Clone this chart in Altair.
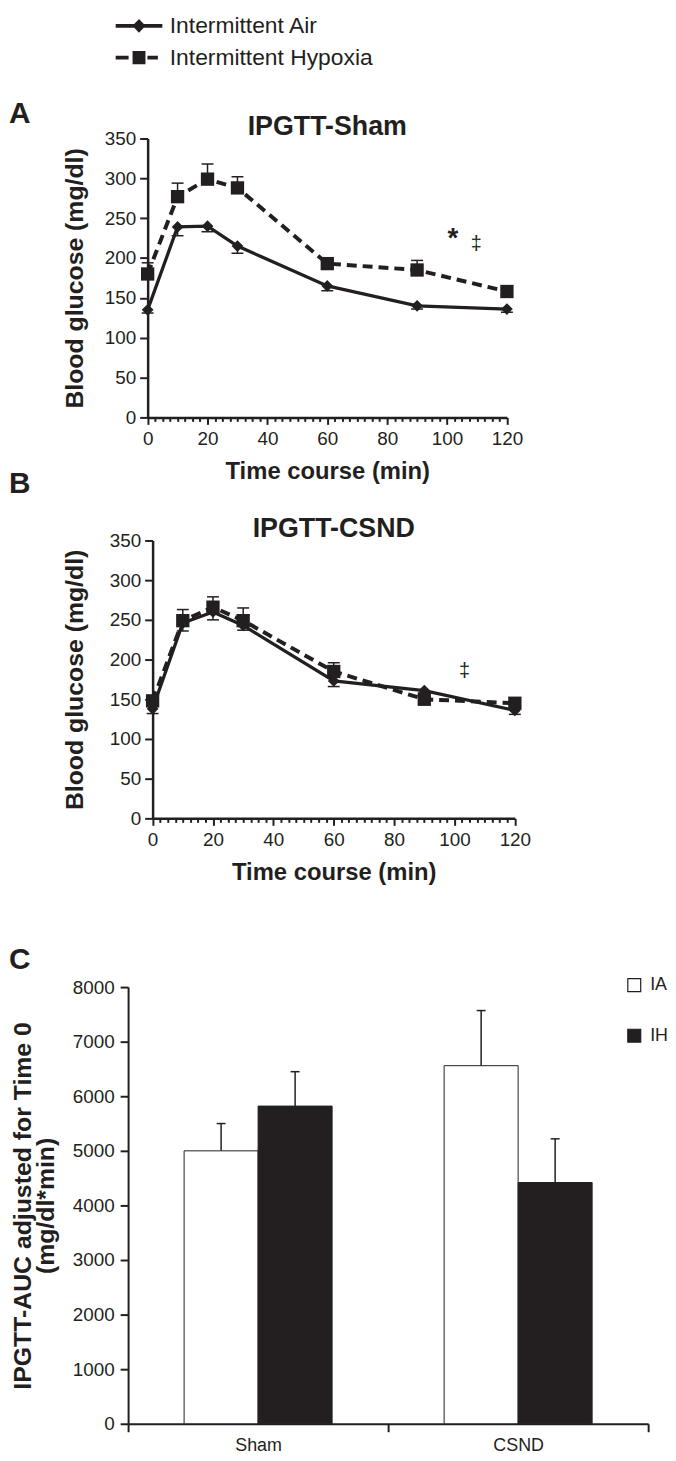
import altair as alt
import pandas as pd

# ---------------- data ----------------
time_min = [0, 10, 20, 30, 60, 90, 120]
sham_ia = [135, 239, 240, 215, 165, 140, 136]
sham_ia_sem = [4, 11, 7, 9, 6, 4, 4]
sham_ih = [180, 277, 299, 288, 193, 185, 158]
sham_ih_sem = [14, 17, 19, 14, 4, 12, 4]
csnd_ia = [138, 246, 260, 243, 173, 161, 136]
csnd_ia_sem = [6, 10, 10, 6, 7, 3, 5]
csnd_ih = [148, 249, 266, 249, 185, 150, 145]
csnd_ih_sem = [5, 14, 13, 16, 11, 4, 4]

series_names = ["Intermittent Air", "Intermittent Hypoxia"]
group_codes = ["IA", "IH"]
panel_titles = ["IPGTT-Sham", "IPGTT-CSND"]
panel_letters = ["A", "B", "C"]
time_ticks = [0, 20, 40, 60, 80, 100, 120]
glucose_ticks = [0, 50, 100, 150, 200, 250, 300, 350]

star_text = ["*"]
ddagger_text = ["\u2021"]
sham_star_t = [102.0]
sham_star_v = [224]
sham_dd_t = [109.8]
sham_dd_v = [217]
csnd_dd_t = [103.3]
csnd_dd_v = [185]

auc_conditions = ["Sham", "CSND"]
auc_ia = [5000, 6560]
auc_ia_sem = [500, 1010]
auc_ih = [5820, 4420]
auc_ih_sem = [630, 800]
auc_ticks = [0, 1000, 2000, 3000, 4000, 5000, 6000, 7000, 8000]

# ---------------- style ----------------
INK = "#231f20"
FONT = "Liberation Sans"
LEFT = -120  # left edge of the figure, relative to every panel's origin

# legend glyphs (unit = 10 px for symbolSize 400)
PATH_IA = ("M-2.35,-0.2L2.35,-0.2L2.35,0.2L-2.35,0.2Z "
           "M0,-0.7L0.66,0L0,0.7L-0.66,0Z")
PATH_IH = ("M-2.35,-0.2L-1.05,-0.2L-1.05,0.2L-2.35,0.2Z "
           "M-0.65,-0.68L0.65,-0.68L0.65,0.68L-0.65,0.68Z "
           "M0.85,-0.2L1.9,-0.2L1.9,0.2L0.85,0.2Z")


def glucose_frame(ia, ia_sem, ih, ih_sem):
    rows = []
    for t, v, e in zip(time_min, ia, ia_sem):
        rows.append({"t": t, "series": series_names[0], "v": v, "lo": v - e, "hi": v, "cap": v - e})
    for t, v, e in zip(time_min, ih, ih_sem):
        rows.append({"t": t, "series": series_names[1], "v": v, "lo": v, "hi": v + e, "cap": v + e})
    return pd.DataFrame(rows)


def text_layer(txt, x, y, size, weight="bold", align="left", baseline="middle"):
    return alt.Chart(pd.DataFrame({"label": txt})).mark_text(
        font=FONT, fontSize=size, fontWeight=weight, color=INK, align=align, baseline=baseline
    ).encode(x=alt.value(x), y=alt.value(y), text="label:N")


def bound_layer(y_top, y_bottom):
    # white hairline that fixes the panel's extent for the layout
    return alt.Chart(pd.DataFrame({"m": [0]})).mark_rule(color="#ffffff", strokeWidth=0.5).encode(
        x=alt.value(LEFT), y=alt.value(y_top), y2=alt.value(y_bottom)
    )


def glucose_panel(df, title, off, w, h, ytitle_x, title_y, bound, letters, notes, legend=False):
    xs = alt.Scale(domain=[0, 120], range=[off, off + w], nice=False, zero=False)
    ys = alt.Scale(domain=[0, 350], nice=False)
    major = f"indexof({time_ticks}, datum.value) >= 0"
    x_axis = alt.Axis(
        values=[i * 2.5 for i in range(49)],
        labelExpr=f"{major} ? datum.label : ''",
        labelOverlap=False, labelFlush=False,
        tickSize={"condition": {"test": major, "value": 7}, "value": 4},
        tickColor=INK, tickWidth=2, domainColor=INK, domainWidth=2.5,
        labelFont=FONT, labelFontSize=19, labelColor=INK, labelPadding=5,
        grid=False, title="Time course (min)", titleFont=FONT, titleFontSize=24,
        titleFontWeight="bold", titleColor=INK, titleX=off + w / 2, titleY=55,
        titleAlign="center", titleBaseline="middle",
    )
    y_axis = alt.Axis(
        values=glucose_ticks, tickSize=8, tickColor=INK, tickWidth=2, offset=-off,
        domainColor=INK, domainWidth=2.5, labelFont=FONT, labelFontSize=19,
        labelColor=INK, labelPadding=4, grid=False,
        title="Blood glucose (mg/dl)", titleFont=FONT, titleFontSize=25,
        titleFontWeight="bold", titleColor=INK, titleX=ytitle_x, titleY=h / 2,
        titleAngle=270, titleAlign="center", titleBaseline="middle",
    )

    def X():
        return alt.X("t:Q", scale=xs, axis=x_axis)

    def Y(f):
        return alt.Y(f"{f}:Q", scale=ys, axis=y_axis)

    base = alt.Chart(df)
    ia = base.transform_filter(alt.datum.series == series_names[0])
    ih = base.transform_filter(alt.datum.series == series_names[1])
    layers = [
        bound_layer(*bound),
        ia.mark_line(color=INK, strokeWidth=3.3).encode(x=X(), y=Y("v")),
        ih.mark_line(color=INK, strokeWidth=4, strokeDash=[10, 6]).encode(x=X(), y=Y("v")),
        base.mark_rule(color=INK, strokeWidth=1.5).encode(x=X(), y=Y("lo"), y2="hi:Q"),
        base.mark_tick(color=INK, thickness=1.5, size=12, orient="horizontal", opacity=1).encode(x=X(), y=Y("cap")),
        ia.mark_point(shape="diamond", filled=True, size=140, color=INK, opacity=1).encode(x=X(), y=Y("v")),
        ih.mark_point(shape="square", filled=True, size=180, color=INK, opacity=1).encode(x=X(), y=Y("v")),
    ]
    for txt, tt, vv, size, weight in notes:
        layers.append(
            alt.Chart(pd.DataFrame({"t": tt, "v": vv, "s": txt})).mark_text(
                font=FONT, fontSize=size, fontWeight=weight, color=INK, baseline="middle"
            ).encode(x=X(), y=Y("v"), text="s:N")
        )
    layers.append(text_layer([title], off + w / 2, title_y, 27, align="center", baseline="alphabetic"))
    for txt, ly in letters:
        layers.append(text_layer([txt], LEFT, ly, 30))
    if legend:
        layers.append(
            alt.Chart(pd.DataFrame({"series": series_names})).mark_point(
                filled=True, opacity=0, color=INK
            ).encode(
                shape=alt.Shape(
                    "series:N",
                    scale=alt.Scale(domain=series_names, range=[PATH_IA, PATH_IH]),
                    legend=alt.Legend(
                        title=None, orient="none", legendX=-0.5, legendY=-125,
                        symbolSize=400, symbolOpacity=1, symbolFillColor=INK,
                        symbolStrokeWidth=0, symbolOffset=0, padding=0,
                        labelFont=FONT, labelFontSize=23, labelColor=INK,
                        labelOffset=19.5, rowPadding=8, labelLimit=0,
                    ),
                )
            )
        )
    return alt.layer(*layers).properties(width=off + w, height=h)


# ---------------- panel A ----------------
panel_a = glucose_panel(
    glucose_frame(sham_ia, sham_ia_sem, sham_ih, sham_ih_sem),
    panel_titles[0], off=19.7, w=362, h=281, ytitle_x=-74, title_y=-4,
    bound=(-125, 368),
    letters=[(panel_letters[0], -25), (panel_letters[1], 348)],
    notes=[(star_text, sham_star_t, sham_star_v, 28, "bold"),
           (ddagger_text, sham_dd_t, sham_dd_v, 20, "normal")],
    legend=True,
)

# ---------------- panel B ----------------
panel_b = glucose_panel(
    glucose_frame(csnd_ia, csnd_ia_sem, csnd_ih, csnd_ih_sem),
    panel_titles[1], off=24.7, w=365, h=280, ytitle_x=-79, title_y=-3,
    bound=(-35, 391),
    letters=[],
    notes=[(ddagger_text, csnd_dd_t, csnd_dd_v, 20, "normal")],
)

# ---------------- panel C ----------------
rows = []
for c, v, e in zip(auc_conditions, auc_ia, auc_ia_sem):
    rows.append({"cond": c, "grp": group_codes[0], "auc": v, "hi": v + e})
for c, v, e in zip(auc_conditions, auc_ih, auc_ih_sem):
    rows.append({"cond": c, "grp": group_codes[1], "auc": v, "hi": v + e})
auc_df = pd.DataFrame(rows)

CW, CH = 524, 440
cy_axis = alt.Axis(
    values=auc_ticks, format="d", tickSize=8, tickColor=INK, tickWidth=2, domainColor=INK,
    domainWidth=2, labelFont=FONT, labelFontSize=19, labelColor=INK, labelPadding=6,
    grid=False, title=["IPGTT-AUC adjusted for Time 0", "(mg/dl*min)"],
    titleFont=FONT, titleFontSize=25, titleFontWeight="bold", titleColor=INK,
    titleLineHeight=23, titleX=-106, titleY=CH / 2, titleAngle=270,
    titleAlign="center", titleBaseline="middle",
)
cx = alt.X(
    "cond:N", scale=alt.Scale(domain=auc_conditions, paddingInner=0, paddingOuter=0),
    axis=alt.Axis(title=None, tickBand="extent", labelAngle=0, tickSize=8, tickWidth=2,
                  tickColor=INK, domainColor=INK, domainWidth=2, labelFont=FONT,
                  labelFontSize=18, labelColor=INK, labelPadding=5, grid=False),
)
cxo = alt.XOffset("grp:N", scale=alt.Scale(domain=group_codes, paddingInner=0, paddingOuter=0.757))
cys = alt.Scale(domain=[0, 8000], nice=False)

base_c = alt.Chart(auc_df).encode(x=cx, xOffset=cxo)
bars = base_c.mark_bar(stroke=INK, strokeWidth=1).encode(
    y=alt.Y("auc:Q", scale=cys, axis=cy_axis),
    fill=alt.Fill(
        "grp:N", scale=alt.Scale(domain=group_codes, range=["#ffffff", INK]),
        legend=alt.Legend(
            title=None, orient="none", legendX=501, legendY=-11, symbolType="square",
            symbolSize=169, symbolStrokeColor=INK, symbolStrokeWidth=1.2, symbolOffset=0,
            padding=0, labelFont=FONT, labelFontSize=18, labelColor=INK, labelOffset=7,
            rowPadding=33,
        ),
    ),
)
err_c = base_c.mark_rule(color=INK, strokeWidth=1.5).encode(
    y=alt.Y("auc:Q", scale=cys, axis=cy_axis), y2="hi:Q"
)
cap_c = base_c.mark_tick(color=INK, thickness=1.5, size=9, orient="horizontal", opacity=1).encode(
    y=alt.Y("hi:Q", scale=cys, axis=cy_axis)
)
panel_c = alt.layer(
    bound_layer(-57, 0),
    bars, err_c, cap_c,
    text_layer([panel_letters[2]], LEFT, -27, 30),
).properties(width=CW, height=CH)

chart = alt.concat(
    panel_a, panel_b, panel_c, columns=1, spacing=0, align="none", bounds="full"
).resolve_scale(
    shape="independent", fill="independent"
).properties(padding=0).configure_view(strokeWidth=0)

chart.save("out.html", embed_options={"renderer": "svg", "actions": False})
